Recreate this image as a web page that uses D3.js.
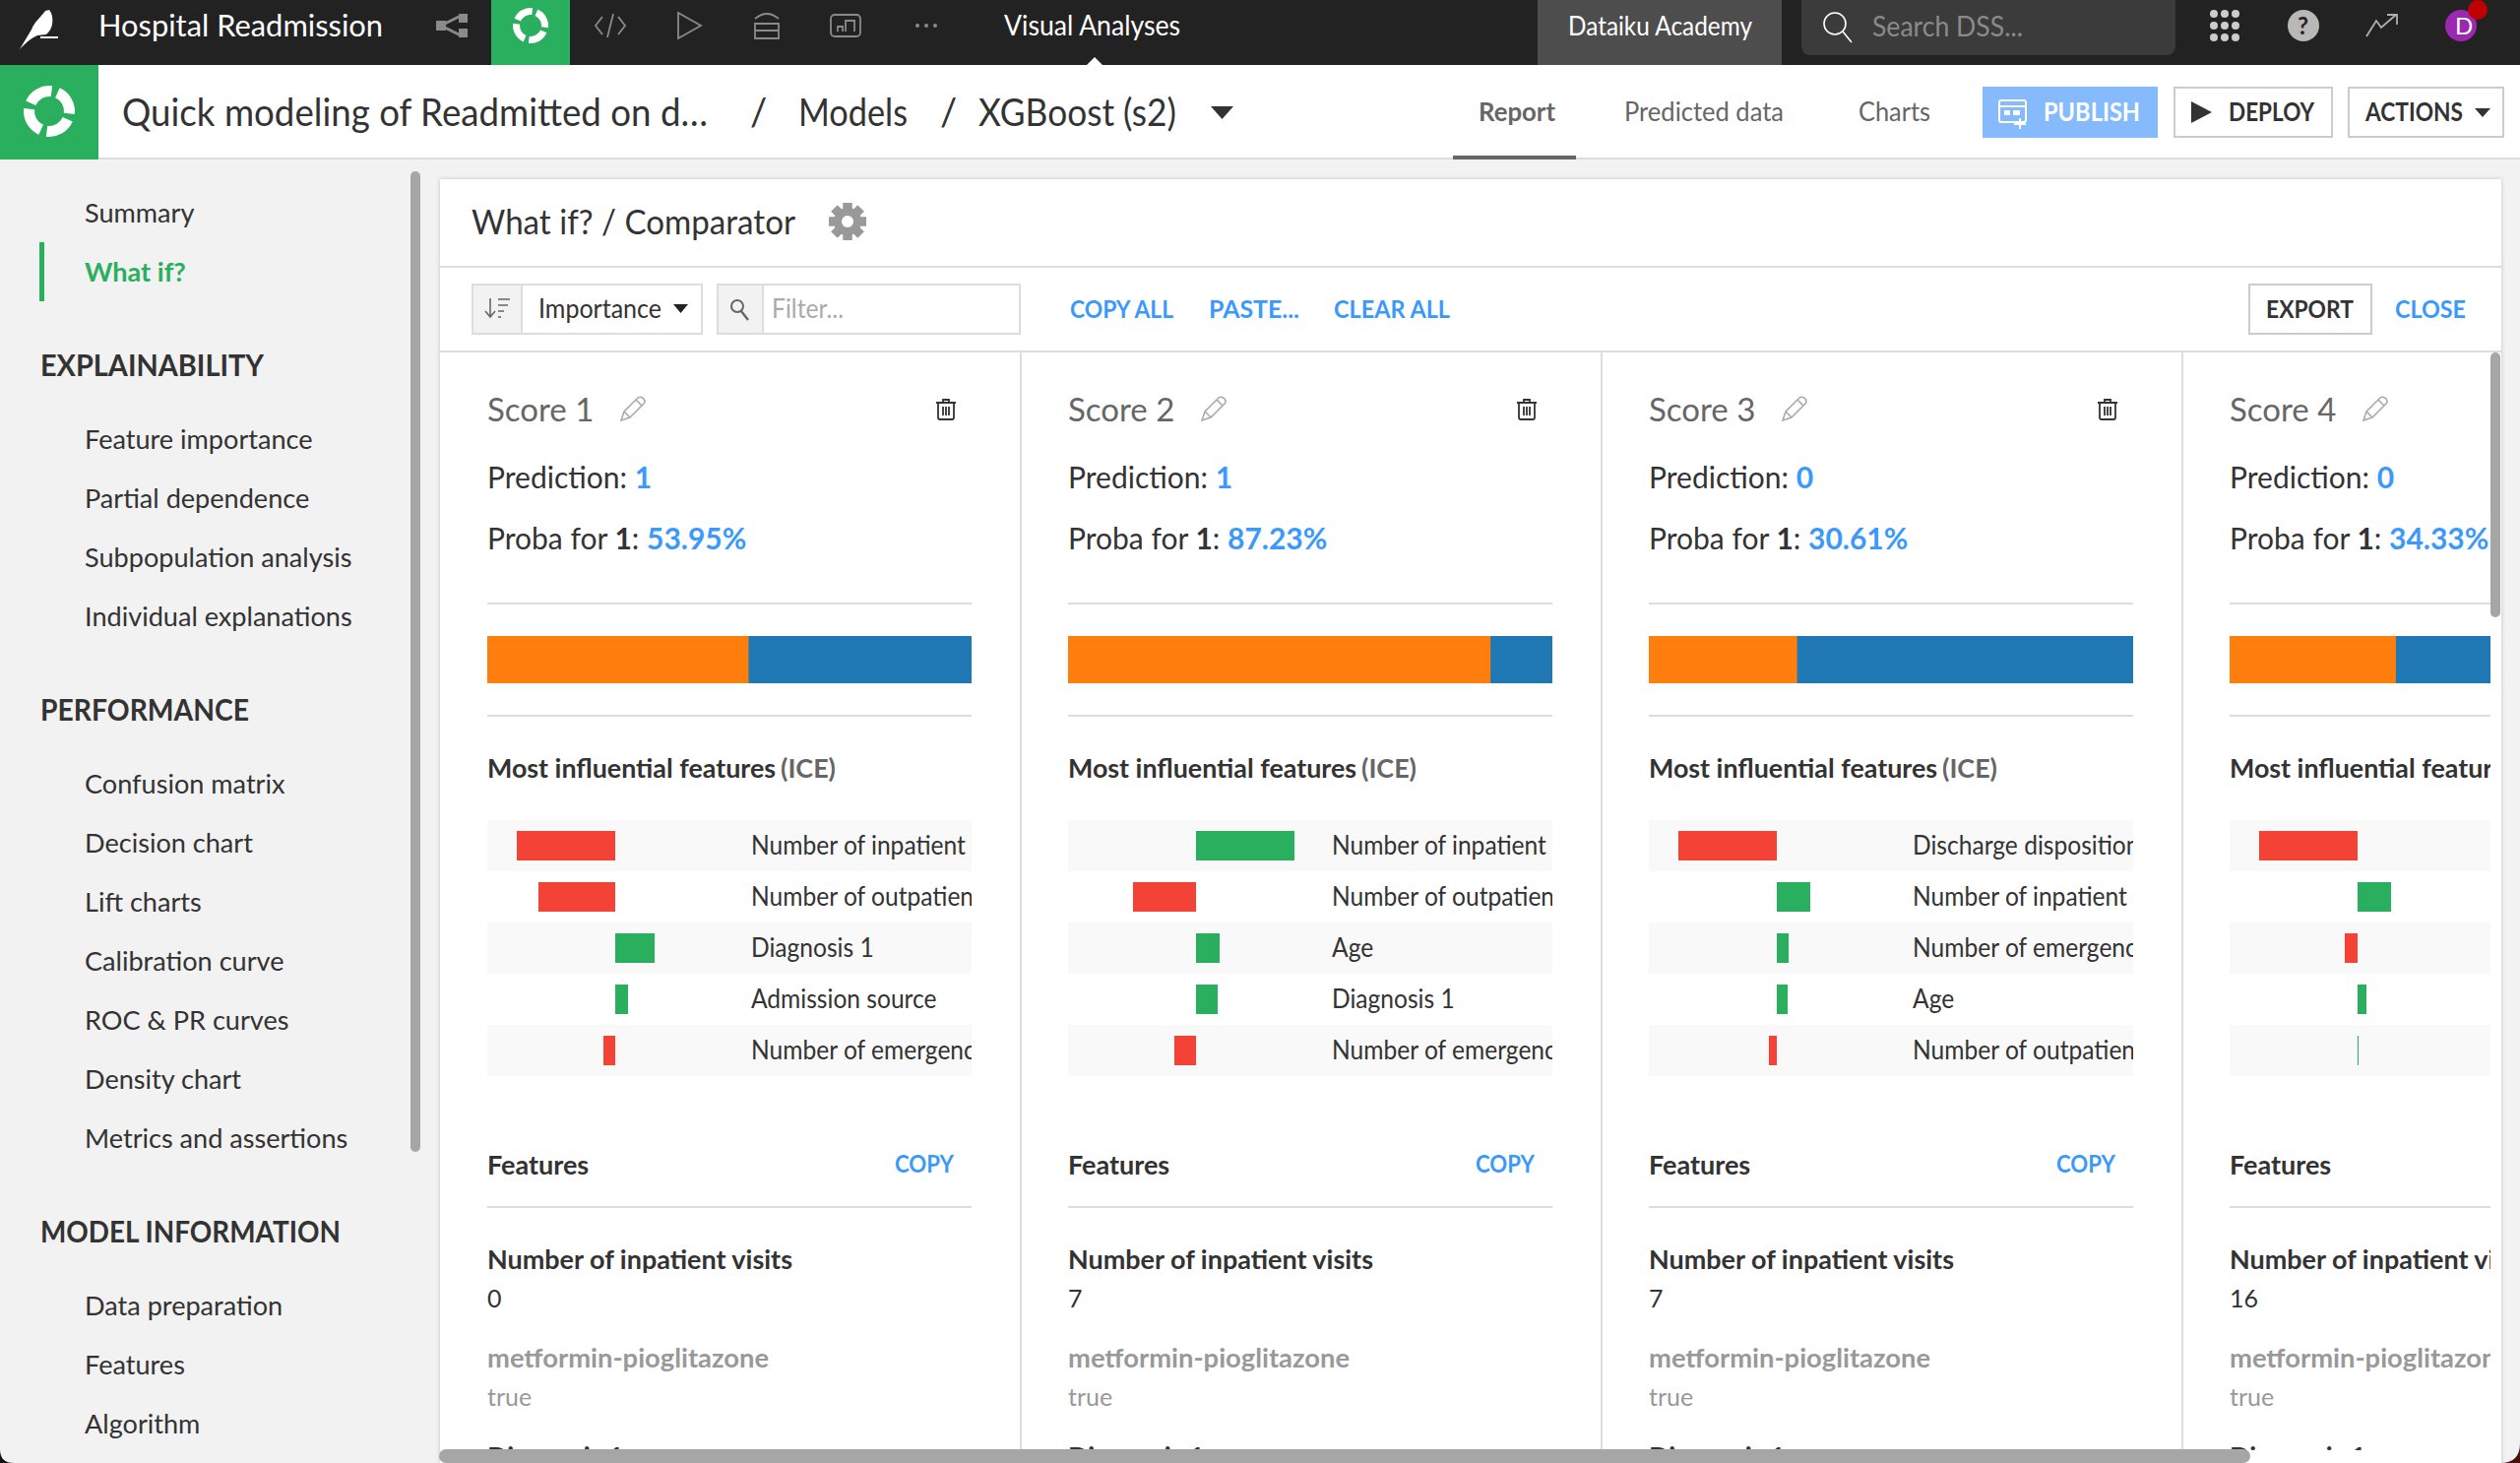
<!DOCTYPE html>
<html>
<head>
<meta charset="utf-8">
<script src="https://cdn.jsdelivr.net/npm/d3@7"></script>
<style>
  html, body { margin: 0; padding: 0; background: #f2f2f2; overflow: hidden; }
  text { font-family: Lato, "Noto Sans", sans-serif; }
</style>
</head>
<body>
<div id="wrapper"></div>
<script>
// data
const scoreNames = ["Score 1", "Score 2", "Score 3", "Score 4"]
const predictions = ["1", "1", "0", "0"]
const probas = [53.95, 87.23, 30.61, 34.33]
const inpatientVisits = ["0", "7", "7", "16"]
const metforminValues = ["true", "true", "true", "true"]
const featureNames = [
  ["Number of inpatient", "Number of outpatient visits", "Diagnosis 1", "Admission source", "Number of emergency visits"],
  ["Number of inpatient", "Number of outpatient visits", "Age", "Diagnosis 1", "Number of emergency visits"],
  ["Discharge disposition", "Number of inpatient", "Number of emergency visits", "Age", "Number of outpatient visits"],
  ["Discharge disposition", "Number of inpatient", "Number of emergency visits", "Age", "Number of outpatient visits"],
]
// ICE impact, in percent of the biggest one of the card
const featureImpacts = [
  [-100, -78, 40, 13, -12],
  [100, -64, 24, 22, -22],
  [-100, 34, 12, 11, -8],
  [-100, 34, -13, 9, 1],
]
const menuTop = ["Summary", "What if?"]
const explainability = ["Feature importance", "Partial dependence", "Subpopulation analysis", "Individual explanations"]
const performance_ = ["Confusion matrix", "Decision chart", "Lift charts", "Calibration curve", "ROC & PR curves", "Density chart", "Metrics and assertions"]
const modelInformation = ["Data preparation", "Features", "Algorithm"]

const WIDTH = 2560, HEIGHT = 1486
const dark = "#333333", blue = "#3b99fc", green = "#29af5d", red = "#f44336"
const orange = "#ff7f0e", steel = "#1f77b4", line = "#dddddd"

const svg = d3.select("#wrapper").append("svg")
  .attr("width", WIDTH).attr("height", HEIGHT)
  .style("display", "block")

// text helper. w squeezes the text to the width it has in the reference
function label(g, x, y, str, o = {}) {
  const t = g.append("text")
    .attr("x", x).attr("y", y)
    .attr("font-size", o.size || 27)
    .attr("font-weight", o.weight || 400)
    .attr("fill", o.color || dark)
    .text(str)
  if (o.w) t.attr("textLength", o.w).attr("lengthAdjust", "spacingAndGlyphs")
  return t
}
// Lato runs a bit wider than the font of the reference
function squeeze(sel, k) {
  sel.each(function () {
    this.setAttribute("textLength", this.getComputedTextLength() * k)
    this.setAttribute("lengthAdjust", "spacingAndGlyphs")
  })
}
function box(g, x, y, w, h, fill, stroke) {
  return g.append("rect").attr("x", x).attr("y", y).attr("width", w).attr("height", h)
    .attr("fill", fill || "none").attr("stroke", stroke || "none").attr("stroke-width", stroke ? 2 : 0)
}
function triangle(g, x, y, w, h, fill) {
  g.append("path").attr("d", `M${x},${y}h${w}l${-w / 2},${h}Z`).attr("fill", fill)
}
// the four part ring of the analysis logo
function ring(g, cx, cy, r0, r1, fill) {
  const arc = d3.arc().innerRadius(r0).outerRadius(r1)
  d3.range(4).forEach(i => {
    const a = Math.PI / 2 * i + 0.42
    g.append("path").attr("transform", `translate(${cx},${cy})`)
      .attr("d", arc({ startAngle: a, endAngle: a + Math.PI / 2 - 0.3 }))
      .attr("fill", fill)
  })
}
function pencil(g, x, y) {
  g.append("path")
    .attr("transform", `translate(${x},${y})`)
    .attr("d", "M0,24 L3,15 L17,1 Q20,-1 23,2 Q25,5 23,7 L9,21 Z M3,15 L9,21 M15,3 L21,9")
    .attr("fill", "none").attr("stroke", "#aaaaaa").attr("stroke-width", 1.6)
}
function trash(g, x, y) {
  const p = g.append("g").attr("transform", `translate(${x},${y})`)
    .attr("fill", "none").attr("stroke", dark).attr("stroke-width", 1.8)
  p.append("path").attr("d", "M0,4h20M7,4V1h6V4")
  p.append("path").attr("d", "M2,4v15q0,2 2,2h12q2,0 2,-2V4")
  p.append("path").attr("d", "M7,8v9M10,8v9M13,8v9")
}

// 1. Page background
box(svg, 0, 0, WIDTH, HEIGHT, "#f2f2f2")

// 2. Top navigation
const nav = svg.append("g")
box(nav, 0, 0, WIDTH, 66, "#222222")
nav.append("path")
  .attr("d", "M20,50 L32,30 C35,22 41,18 46,11 L50,10 L52,13 C55,22 53,30 47,35 L38,36 C31,39 27,43 20,50Z")
  .attr("fill", "#ffffff")
box(nav, 41, 37, 18, 2, "#ffffff")
label(nav, 100, 37, "Hospital Readmission", { size: 30, color: "#ffffff", w: 289 })

// flow icon
nav.append("path").attr("d", "M448,26 L468,16 M448,26 L468,36").attr("stroke", "#8a8a8a").attr("stroke-width", 3)
box(nav, 443, 21, 10, 10, "#8a8a8a"); box(nav, 466, 14, 9, 9, "#8a8a8a"); box(nav, 466, 29, 9, 9, "#8a8a8a")
box(nav, 499, 0, 80, 66, green)
ring(nav, 539, 26, 11, 18, "#ffffff")
// code, run, stack, dashboard, more
const navIcons = nav.append("g").attr("fill", "none").attr("stroke", "#8a8a8a").attr("stroke-width", 1.8)
navIcons.append("path").attr("d", "M612,17 L605,26 L612,35 M628,17 L635,26 L628,35 M623,14 L617,38")
navIcons.append("path").attr("d", "M689,13 L712,26 L689,39Z")
navIcons.append("path").attr("d", "M767,19 Q779,9 791,19 M767,24 h24 v15 h-24Z M767,31 h24")
navIcons.append("rect").attr("x", 844).attr("y", 15).attr("width", 30).attr("height", 22).attr("rx", 4)
navIcons.append("path").attr("d", "M851,32 v-5 h5 v5 M859,32 v-11 h9 v11")
d3.range(3).forEach(i => nav.append("circle").attr("cx", 932 + i * 9).attr("cy", 26).attr("r", 2).attr("fill", "#8a8a8a"))
label(nav, 1020, 36, "Visual Analyses", { size: 28, color: "#ffffff", w: 179 })
nav.append("path").attr("d", "M1104,66 L1112,58 L1120,66Z").attr("fill", "#ffffff")

box(nav, 1562, 0, 248, 66, "#4d4d4d")
label(nav, 1593, 36, "Dataiku Academy", { size: 27, color: "#ffffff", w: 187 })
nav.append("path").attr("d", "M1830,0 H2210 V46 Q2210,56 2200,56 H1840 Q1830,56 1830,46Z").attr("fill", "#3b3b3b")
nav.append("circle").attr("cx", 1864).attr("cy", 24).attr("r", 11).attr("fill", "none").attr("stroke", "#ffffff").attr("stroke-width", 1.6)
nav.append("path").attr("d", "M1872,32 L1881,43").attr("stroke", "#ffffff").attr("stroke-width", 1.6)
label(nav, 1902, 37, "Search DSS...", { size: 28, color: "#8a8a8a", w: 153 })
d3.range(3).forEach(r => d3.range(3).forEach(c =>
  nav.append("circle").attr("cx", 2249 + c * 11).attr("cy", 14 + r * 12).attr("r", 4).attr("fill", "#cccccc")))
nav.append("circle").attr("cx", 2340).attr("cy", 26).attr("r", 16).attr("fill", "#b8b8b8")
label(nav, 2334, 35, "?", { size: 24, weight: 700, color: "#222222" })
nav.append("path").attr("d", "M2404,37 L2414,21 L2419,28 L2434,15 M2425,15 H2435 V25")
  .attr("fill", "none").attr("stroke", "#b0b0b0").attr("stroke-width", 1.8)
nav.append("circle").attr("cx", 2500).attr("cy", 26).attr("r", 16).attr("fill", "#9c27b0")
label(nav, 2494, 35, "D", { size: 24, color: "#ffffff" })
nav.append("circle").attr("cx", 2517).attr("cy", 10).attr("r", 10).attr("fill", "#c00000")

// 3. Breadcrumb row
const crumb = svg.append("g")
box(crumb, 0, 66, WIDTH, 94, "#ffffff")
box(crumb, 0, 160, WIDTH, 2, line)
box(crumb, 0, 66, 100, 96, green)
ring(crumb, 50, 113, 15, 26, "#ffffff")
label(crumb, 124, 128, "Quick modeling of Readmitted on d…", { size: 38, w: 595 })
label(crumb, 762, 128, "/", { size: 38 })
label(crumb, 811, 128, "Models", { size: 38, w: 111 })
label(crumb, 955, 128, "/", { size: 38 })
label(crumb, 994, 128, "XGBoost (s2)", { size: 38, w: 201 })
triangle(crumb, 1230, 108, 23, 13, dark)

label(crumb, 1502, 123, "Report", { size: 26, weight: 700, color: "#666666", w: 78 })
box(crumb, 1476, 158, 125, 4, "#666666")
label(crumb, 1650, 123, "Predicted data", { size: 26, color: "#666666", w: 162 })
label(crumb, 1888, 123, "Charts", { size: 26, color: "#666666", w: 73 })

box(crumb, 2014, 88, 178, 52, "#85bbfd")
const pubIcon = crumb.append("g").attr("fill", "none").attr("stroke", "#ffffff").attr("stroke-width", 2)
pubIcon.append("rect").attr("x", 2031).attr("y", 102).attr("width", 27).attr("height", 22).attr("rx", 2)
pubIcon.append("path").attr("d", "M2031,108 H2058 M2052,120 V131 M2046,126 H2058")
box(crumb, 2036, 112, 6, 5, "#ffffff"); box(crumb, 2045, 112, 7, 5, "#ffffff")
label(crumb, 2076, 123, "PUBLISH", { size: 26, weight: 700, color: "#ffffff", w: 98 })
box(crumb, 2209, 89, 160, 50, "#ffffff", "#cccccc")
crumb.append("path").attr("d", "M2226,103 L2247,114 L2226,125Z").attr("fill", dark)
label(crumb, 2264, 123, "DEPLOY", { size: 26, weight: 700, w: 87 })
box(crumb, 2386, 89, 157, 50, "#ffffff", "#cccccc")
label(crumb, 2403, 123, "ACTIONS", { size: 26, weight: 700, w: 99 })
triangle(crumb, 2514, 110, 16, 9, dark)

// 4. Sidebar
const side = svg.append("g")
function menu(items, y0) {
  return side.append("g").selectAll("text").data(items).join("text")
    .attr("x", 86).attr("y", (d, i) => y0 + i * 60)
    .attr("font-size", 27.5).attr("fill", dark)
    .text(d => d)
}
menu(menuTop, 226)
  .attr("fill", d => d === "What if?" ? green : dark)
  .attr("font-weight", d => d === "What if?" ? 700 : 400)
  .call(squeeze, 0.985)
box(side, 40, 246, 5, 60, green)
label(side, 41, 382, "EXPLAINABILITY", { size: 30, weight: 700, w: 227 })
menu(explainability, 456).call(squeeze, 0.985)
label(side, 41, 732, "PERFORMANCE", { size: 30, weight: 700, w: 212 })
menu(performance_, 806).call(squeeze, 0.985)
label(side, 41, 1262, "MODEL INFORMATION", { size: 30, weight: 700, w: 305 })
menu(modelInformation, 1336).call(squeeze, 0.985)
box(side, 417, 174, 10, 996, "#a6a6a6").attr("rx", 5)

// 5. Panel
const panel = svg.append("g")
panel.append("defs").append("filter").attr("id", "soft")
  .append("feDropShadow").attr("dx", 0).attr("dy", 0).attr("stdDeviation", 2).attr("flood-color", "#000000").attr("flood-opacity", 0.2)
box(panel, 447, 182, 2094, 1304, "#ffffff").style("filter", "url(#soft)")
label(panel, 479, 238, "What if? / Comparator", { size: 35, w: 329 })
const gear = panel.append("g").attr("transform", "translate(861,225)")
d3.range(8).forEach(i => gear.append("rect").attr("x", -4.5).attr("y", -19).attr("width", 9).attr("height", 38)
  .attr("fill", "#999999").attr("transform", `rotate(${i * 45})`))
gear.append("circle").attr("r", 14).attr("fill", "#999999")
gear.append("circle").attr("r", 6).attr("fill", "#ffffff")
box(panel, 447, 270, 2094, 2, line)
box(panel, 447, 356, 2094, 2, line)

// toolbar
box(panel, 480, 289, 233, 50, "#ffffff", line)
box(panel, 480, 289, 50, 50, "#f2f2f2", line)
const sortIcon = panel.append("g").attr("stroke", "#666666").attr("stroke-width", 1.6).attr("fill", "none")
sortIcon.append("path").attr("d", "M498,303 V322 M493,316 L498,322 L503,316 M506,304 H518 M506,310 H516 M506,316 H512 M506,322 H509")
label(panel, 547, 323, "Importance", { size: 26, w: 125 })
triangle(panel, 684, 309, 15, 9, "#222222")
box(panel, 729, 289, 307, 50, "#ffffff", line)
box(panel, 729, 289, 46, 50, "#f2f2f2", line)
panel.append("circle").attr("cx", 749).attr("cy", 311).attr("r", 6).attr("fill", "none").attr("stroke", "#666666").attr("stroke-width", 2)
panel.append("path").attr("d", "M753,316 L760,325").attr("stroke", "#666666").attr("stroke-width", 2.4)
label(panel, 784, 323, "Filter...", { size: 26, color: "#aaaaaa", w: 73 })
label(panel, 1087, 323, "COPY ALL", { size: 25, weight: 700, color: blue, w: 105 })
label(panel, 1228, 323, "PASTE...", { size: 25, weight: 700, color: blue, w: 92 })
label(panel, 1355, 323, "CLEAR ALL", { size: 25, weight: 700, color: blue, w: 118 })
box(panel, 2285, 289, 124, 50, "#ffffff", "#cccccc")
label(panel, 2302, 323, "EXPORT", { size: 25, weight: 700, w: 89 })
label(panel, 2433, 323, "CLOSE", { size: 25, weight: 700, color: blue, w: 72 })

// 6. Score cards
const cardX = d3.scaleLinear().domain([0, 1]).range([495, 1085])
const CARD_W = 492
const probaScale = d3.scaleLinear().domain([0, 100]).range([0, CARD_W])
const impactScale = d3.scaleLinear().domain([-100, 100]).range([30, 230])
const rowScale = d3.scaleBand().domain(d3.range(5)).range([833, 1093])

// view of the scrolling area, the last card runs out of it
svg.append("defs").append("clipPath").attr("id", "view")
  .append("rect").attr("x", 447).attr("y", 358).attr("width", 2083).attr("height", 1473 - 358)
const cards = svg.append("g").attr("clip-path", "url(#view)")

scoreNames.forEach((name, c) => {
  const x0 = cardX(c)
  const g = cards.append("g").attr("transform", `translate(${x0},0)`)
  g.append("defs").append("clipPath").attr("id", `row${c}`)
    .append("rect").attr("x", 0).attr("y", 800).attr("width", CARD_W).attr("height", 320)

  label(g, 0, 428, name, { size: 33, color: "#666666" })
  pencil(g, 136, 403)
  if (c < 3) trash(g, 456, 405)

  const pred = label(g, 0, 496, "Prediction: ", { size: 30 })
  pred.append("tspan").attr("fill", blue).attr("font-weight", 700).text(predictions[c])
  const prob = label(g, 0, 558, "Proba for ", { size: 30 })
  prob.append("tspan").attr("font-weight", 700).text("1")
  prob.append("tspan").text(": ")
  prob.append("tspan").attr("fill", blue).attr("font-weight", 700).text(probas[c].toFixed(2) + "%")

  box(g, 0, 612, CARD_W, 2, line)
  box(g, 0, 646, probaScale(100), 48, steel)
  box(g, 0, 646, probaScale(probas[c]), 48, orange)
  box(g, 0, 726, CARD_W, 2, line)

  label(g, 0, 790, "Most influential features ", { size: 26, weight: 700, w: 293 })
  label(g, 298, 790, "(ICE)", { size: 26, weight: 700, color: "#666666", w: 56 })

  const rows = g.append("g").attr("clip-path", `url(#row${c})`)
  const data = featureNames[c].map((f, i) => ({ name: f, impact: featureImpacts[c][i], i }))
  rows.selectAll("rect.stripe").data(data.filter(d => d.i % 2 === 0)).join("rect")
    .attr("class", "stripe")
    .attr("x", 0).attr("y", d => rowScale(d.i))
    .attr("width", CARD_W).attr("height", rowScale.bandwidth())
    .attr("fill", "#f9f9f9")
  rows.selectAll("rect.bar").data(data).join("rect")
    .attr("class", "bar")
    .attr("x", d => Math.min(impactScale(0), impactScale(d.impact)))
    .attr("y", d => rowScale(d.i) + 11)
    .attr("width", d => Math.abs(impactScale(d.impact) - impactScale(0)))
    .attr("height", 30)
    .attr("fill", d => d.impact < 0 ? red : green)
  rows.selectAll("text").data(data).join("text")
    .attr("x", 268).attr("y", d => rowScale(d.i) + 35)
    .attr("font-size", 26).attr("fill", dark)
    .text(d => d.name)
    .call(squeeze, 0.945)

  label(g, 0, 1193, "Features", { size: 27, weight: 700 })
  if (c < 3) label(g, 414, 1191, "COPY", { size: 25, weight: 700, color: blue, w: 60 })
  box(g, 0, 1225, CARD_W, 2, line)
  label(g, 0, 1289, "Number of inpatient visits", { size: 27, weight: 700, w: 310 })
  label(g, 0, 1328, inpatientVisits[c], { size: 25 })
  label(g, 0, 1389, "metformin-pioglitazone", { size: 27, weight: 700, color: "#999999", w: 286 })
  label(g, 0, 1428, metforminValues[c], { size: 25, color: "#999999" })
  label(g, 0, 1489, "Diagnosis 1", { size: 27, weight: 700 })
})

// column separators and scrollbars
d3.range(1, 4).forEach(i => box(svg, cardX(i) - 49, 358, 2, 1472 - 358, line))
box(svg, 2530, 358, 10, 269, "#a6a6a6").attr("rx", 5)
box(svg, 446, 1472, 1840, 14, "#a6a6a6").attr("rx", 7)

// rounded window corners
svg.append("path").attr("d", "M0,1472 V1486 H14 Q0,1486 0,1472Z").attr("fill", "#111111")
svg.append("path").attr("d", "M2560,1466 V1486 H2540 Q2560,1486 2560,1466Z").attr("fill", "#4a1208")
</script>
</body>
</html>
